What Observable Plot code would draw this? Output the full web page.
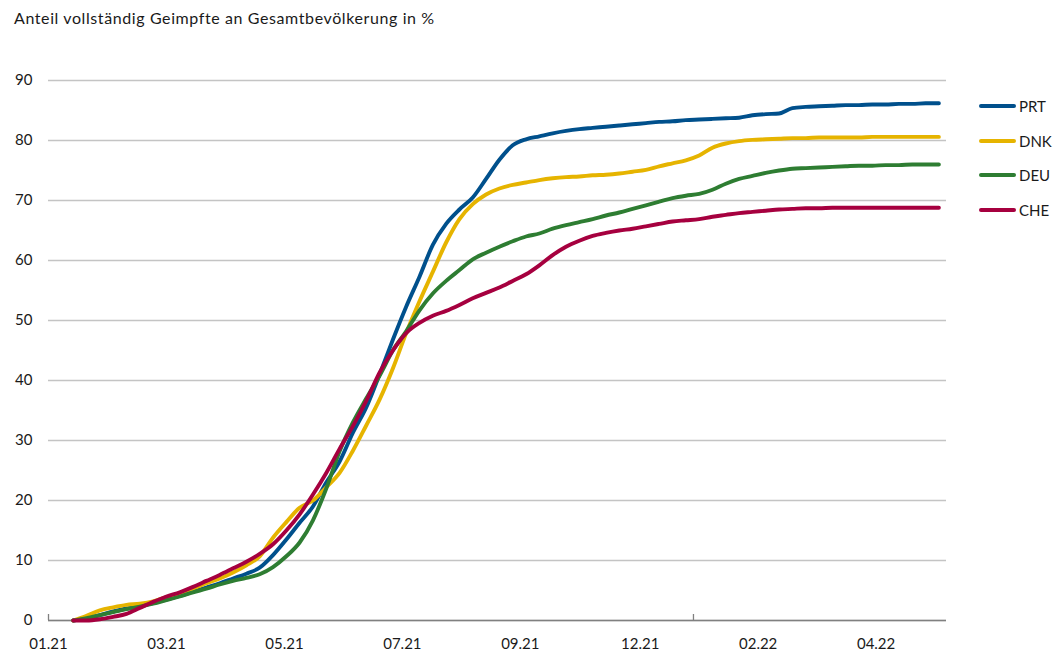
<!DOCTYPE html>
<html>
<head>
<meta charset="utf-8">
<script src="https://cdn.jsdelivr.net/npm/d3@7"></script>
<script src="https://cdn.jsdelivr.net/npm/@observablehq/plot@0.6"></script>
<style>
  html, body { margin: 0; padding: 0; background: #fff; }
  #wrap { position: relative; width: 1053px; height: 654px; font-family: Lato, "Open Sans", sans-serif; color: #1a1a1a; }
  #title { position: absolute; left: 14px; top: 8px; font-size: 16px; letter-spacing: 0.6px; white-space: nowrap; }
  #legend { position: absolute; left: 979px; top: 96px; font-size: 15px; }
  .item { position: relative; height: 34.5px; }
  .swatch { position: absolute; left: 0; top: 8px; width: 37px; height: 4px; border-radius: 2px; }
  .lab { position: absolute; left: 40px; top: 0px; line-height: 20px; }
  #chart { position: absolute; left: 0; top: 0; }
</style>
</head>
<body>
<div id="wrap">
  <div id="chart"></div>
  <div id="title">Anteil vollständig Geimpfte an Gesamtbevölkerung in %</div>
  <div id="legend"></div>
</div>
<script>
const countries = ["PRT", "DNK", "DEU", "CHE"];
const colors = ["#00508c", "#e6b400", "#2e7d32", "#a6003f"];

const dates = [
  "2021-02-07","2021-02-14","2021-02-21","2021-02-28","2021-03-07","2021-03-14","2021-03-21","2021-03-28",
  "2021-04-04","2021-04-11","2021-04-18","2021-04-25","2021-05-02","2021-05-09","2021-05-16","2021-05-23",
  "2021-05-30","2021-06-06","2021-06-13","2021-06-20","2021-06-27","2021-07-04","2021-07-11","2021-07-18",
  "2021-07-25","2021-08-01","2021-08-08","2021-08-15","2021-08-22","2021-08-29","2021-09-05","2021-09-12",
  "2021-09-19","2021-09-26","2021-10-03","2021-10-10","2021-10-17","2021-10-24","2021-10-31","2021-11-07",
  "2021-11-14","2021-11-21","2021-11-28","2021-12-05","2021-12-12","2021-12-19","2021-12-26","2022-01-02",
  "2022-01-09","2022-01-16","2022-01-23","2022-01-30","2022-02-06","2022-02-13","2022-02-20","2022-02-27",
  "2022-03-06","2022-03-13","2022-03-20","2022-03-27","2022-04-03","2022-04-10","2022-04-17","2022-04-24",
  "2022-05-01","2022-05-08"
];

const PRT = [0, 0.3, 0.9, 1.5, 2.0, 2.4, 2.9, 3.5, 4.1, 4.8, 5.5, 6.2, 7.0, 7.8, 8.8, 10.9, 13.5, 16.3, 19.0, 23.0,
  26.5, 31.3, 35.5, 41.0, 46.8, 52.3, 57.3, 62.6, 66.1, 68.5, 70.5, 73.6, 76.8, 79.2, 80.2, 80.7, 81.2, 81.6, 81.9, 82.1,
  82.3, 82.5, 82.7, 82.9, 83.1, 83.2, 83.4, 83.5, 83.6, 83.7, 83.8, 84.2, 84.4, 84.5, 85.4, 85.6, 85.7, 85.8, 85.9, 85.9,
  86.0, 86.0, 86.1, 86.1, 86.2, 86.2];
const DNK = [0, 0.8, 1.7, 2.2, 2.6, 2.8, 3.2, 3.9, 4.5, 5.3, 6.2, 7.0, 8.0, 9.2, 10.7, 13.8, 16.4, 18.8, 20.0, 22.2,
  24.6, 28.3, 32.5, 36.8, 42.0, 47.9, 53.2, 58.1, 63.0, 66.9, 69.4, 71.0, 72.0, 72.6, 73.0, 73.4, 73.7, 73.9, 74.0, 74.2,
  74.3, 74.5, 74.8, 75.1, 75.7, 76.2, 76.7, 77.5, 78.8, 79.5, 79.9, 80.1, 80.2, 80.3, 80.4, 80.4, 80.5, 80.5, 80.5, 80.5,
  80.6, 80.6, 80.6, 80.6, 80.6, 80.6];
const DEU = [0, 0.4, 0.9, 1.4, 1.9, 2.3, 2.8, 3.4, 4.0, 4.7, 5.3, 6.0, 6.6, 7.1, 7.7, 8.9, 10.7, 13.0, 16.7, 22.0,
  28.2, 33.0, 37.0, 40.8, 45.0, 48.2, 51.7, 54.5, 56.6, 58.4, 60.2, 61.3, 62.3, 63.2, 64.0, 64.5, 65.3, 65.9, 66.4, 66.9,
  67.5, 68.0, 68.6, 69.2, 69.8, 70.4, 70.8, 71.1, 71.8, 72.8, 73.6, 74.1, 74.6, 75.0, 75.3, 75.4, 75.5, 75.6, 75.7, 75.8,
  75.8, 75.9, 75.9, 76.0, 76.0, 76.0];
const CHE = [0, 0.0, 0.2, 0.6, 1.1, 2.1, 3.1, 4.0, 4.7, 5.6, 6.6, 7.6, 8.7, 9.8, 11.1, 12.7, 15.0, 17.7, 21.0, 24.6,
  28.6, 32.4, 36.6, 41.3, 45.0, 47.9, 49.6, 50.8, 51.6, 52.6, 53.7, 54.6, 55.5, 56.6, 57.7, 59.2, 60.9, 62.3, 63.3, 64.1,
  64.6, 65.0, 65.3, 65.7, 66.1, 66.5, 66.7, 66.9, 67.3, 67.6, 67.9, 68.1, 68.3, 68.5, 68.6, 68.7, 68.7, 68.8, 68.8, 68.8,
  68.8, 68.8, 68.8, 68.8, 68.8, 68.8];

const yTicks = [0, 10, 20, 30, 40, 50, 60, 70, 80, 90];
const xTickDates = ["2021-01-25", "2021-03-28", "2021-05-29", "2021-07-30", "2021-09-30", "2021-12-02", "2022-02-02", "2022-04-05"];
const xTickLabels = ["01.21", "03.21", "05.21", "07.21", "09.21", "12.21", "02.22", "04.22"];
const axisMarkDates = ["2021-01-25", "2021-12-30"];
const xDomain = ["2021-01-25", "2022-05-12"];

const seriesValues = {PRT, DNK, DEU, CHE};
const data = [];
countries.forEach(c => {
  seriesValues[c].forEach((v, i) => data.push({country: c, date: new Date(dates[i]), value: v}));
});
const tickDates = xTickDates.map(d => new Date(d));
const labelMap = new Map(tickDates.map((d, i) => [+d, xTickLabels[i]]));

const chart = Plot.plot({
  width: 1053,
  height: 654,
  marginLeft: 48,
  marginRight: 107,
  marginTop: 80,
  marginBottom: 34,
  x: {type: "utc", domain: xDomain.map(d => new Date(d))},
  y: {domain: [0, 90]},
  color: {domain: countries, range: colors},
  style: {fontFamily: "Lato, 'Open Sans', sans-serif", fontSize: "15px", color: "#1a1a1a", background: "transparent"},
  marks: [
    Plot.gridY(yTicks, {stroke: "#c4c4c4", strokeOpacity: 1, strokeWidth: 1.4}),
    Plot.axisY(yTicks, {tickSize: 0, tickPadding: 16, label: null, fontSize: 15}),
    Plot.ruleY([0], {stroke: "#808080", strokeWidth: 1.6}),
    Plot.ruleX(axisMarkDates.map(d => new Date(d)), {x: d => d, y1: 0, y2: 0, insetTop: -6, stroke: "#808080", strokeWidth: 1.3}),
    Plot.axisX(tickDates, {tickSize: 0, tickPadding: 18, label: null, tickFormat: d => labelMap.get(+d), fontSize: 15}),
    Plot.line(data, {x: "date", y: "value", z: "country", stroke: "country", strokeWidth: 3.9, curve: "monotone-x", strokeLinecap: "round", strokeLinejoin: "round"})
  ]
});
document.getElementById("chart").appendChild(chart);

const legend = document.getElementById("legend");
countries.forEach((c, i) => {
  const item = document.createElement("div");
  item.className = "item";
  const sw = document.createElement("div");
  sw.className = "swatch";
  sw.style.background = colors[i];
  const lab = document.createElement("div");
  lab.className = "lab";
  lab.textContent = c;
  item.appendChild(sw);
  item.appendChild(lab);
  legend.appendChild(item);
});
</script>
</body>
</html>
